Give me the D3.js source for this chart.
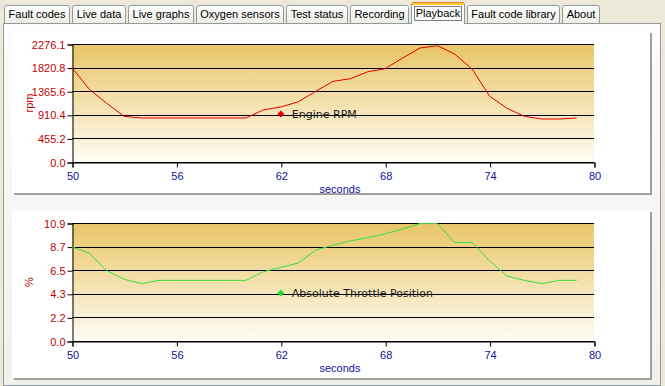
<!DOCTYPE html>
<html>
<head>
<meta charset="utf-8">
<script src="https://cdn.jsdelivr.net/npm/d3@7"></script>
<style>
  body { margin: 0; background: #ece9d8; }
  svg { display: block; font-family: "Liberation Sans", Arial, sans-serif; }
</style>
</head>
<body>
<svg id="chart" width="665" height="386"></svg>
<script>
const tabNames = ["Fault codes", "Live data", "Live graphs", "Oxygen sensors", "Test status",
  "Recording", "Playback", "Fault code library", "About"];
const activeTab = "Playback";

// time axis (seconds)
const seconds = [50, 51, 52, 53, 54, 55, 56, 57, 58, 59, 60, 61, 62, 63, 64,
  65, 66, 67, 68, 69, 70, 71, 72, 73, 74, 75, 76, 77, 78, 79];
const xTicks = [50, 56, 62, 68, 74, 80];

// Engine RPM
const rpmValues = [1820, 1400, 1130, 880, 849, 849, 849, 849, 849, 849, 849, 1005, 1061, 1160, 1362,
  1555, 1607, 1740, 1800, 2005, 2199, 2243, 2080, 1790, 1270, 1035, 880, 829, 829, 849];
const rpmTicks = ["0.0", "455.2", "910.4", "1365.6", "1820.8", "2276.1"];

// Absolute Throttle Position
const throttleValues = [8.7, 8.1, 6.5, 5.7, 5.3, 5.6, 5.6, 5.6, 5.6, 5.6, 5.6, 6.4, 6.8, 7.2, 8.4,
  8.85, 9.25, 9.55, 9.9, 10.35, 10.85, 10.85, 9.1, 9.1, 7.4, 6.0, 5.6, 5.3, 5.6, 5.6];
const throttleTicks = ["0.0", "2.2", "4.3", "6.5", "8.7", "10.9"];

const charts = [
  { name: "Engine RPM", unit: "rpm", values: rpmValues, ticks: rpmTicks, color: "#e00000",
    marker: "#e00000", panelTop: 31, panelBottom: 193, plotTop: 44, plotBottom: 162 },
  { name: "Absolute Throttle Position", unit: "%", values: throttleValues, ticks: throttleTicks, color: "#3ade3a",
    marker: "#22e022", panelTop: 210, panelBottom: 378, plotTop: 223, plotBottom: 341 }
];

const svg = d3.select("#chart");
const defs = svg.append("defs");

function vGrad(id, c0, c1) {
  const g = defs.append("linearGradient").attr("id", id)
    .attr("x1", 0).attr("y1", 0).attr("x2", 0).attr("y2", 1);
  g.append("stop").attr("offset", "0%").attr("stop-color", c0);
  g.append("stop").attr("offset", "100%").attr("stop-color", c1);
}
vGrad("tabGrad", "#ffffff", "#ecebe5");
vGrad("pageGrad", "#fcfcfe", "#f1f0ea");
vGrad("plotGrad", "#e8c567", "#fffcf4");

// ---- tab strip ----
const tabFont = "11px 'Liberation Sans', Arial, sans-serif";
const measure = svg.append("text").style("font", tabFont);
let tx = 4;
const tabs = tabNames.map((name) => {
  measure.text(name);
  const w = Math.round(measure.node().getComputedTextLength() + 9);
  const t = { name, x: tx, w };
  tx += w + 2;
  return t;
});
measure.remove();

function tabPath(x, w, top) {
  return `M${x + 0.5},24 V${top + 2.5} Q${x + 0.5},${top + 0.5} ${x + 2.5},${top + 0.5}` +
    ` H${x + w - 2.5} Q${x + w - 0.5},${top + 0.5} ${x + w - 0.5},${top + 2.5} V24`;
}

const tabG = svg.append("g");
tabs.filter((t) => t.name !== activeTab).forEach((t) => {
  tabG.append("path").attr("d", tabPath(t.x, t.w, 5))
    .attr("fill", "url(#tabGrad)").attr("stroke", "#919b9c");
  tabG.append("text").attr("x", t.x + t.w / 2).attr("y", 18)
    .attr("text-anchor", "middle").style("font", tabFont).attr("fill", "#000")
    .text(t.name);
});

// tab page
svg.append("rect").attr("x", 3.5).attr("y", 23.5).attr("width", 657).attr("height", 362)
  .attr("fill", "url(#pageGrad)").attr("stroke", "#919b9c");

// active tab
tabs.filter((t) => t.name === activeTab).forEach((t) => {
  const g = svg.append("g");
  g.append("path").attr("d", tabPath(t.x, t.w, 2) + " Z").attr("fill", "#fcfcfe").attr("stroke", "none");
  g.append("path").attr("d", tabPath(t.x, t.w, 2)).attr("fill", "none").attr("stroke", "#919b9c");
  g.append("rect").attr("x", t.x + 1).attr("y", 2).attr("width", t.w - 2).attr("height", 1).attr("fill", "#e68b2c");
  g.append("rect").attr("x", t.x + 1).attr("y", 3).attr("width", t.w - 2).attr("height", 2).attr("fill", "#ffc83c");
  g.append("rect").attr("x", t.x + 3.5).attr("y", 6.5).attr("width", t.w - 7).attr("height", 14)
    .attr("fill", "none").attr("stroke", "#000").attr("stroke-dasharray", "1,1");
  g.append("text").attr("x", t.x + t.w / 2).attr("y", 17)
    .attr("text-anchor", "middle").style("font", tabFont).attr("fill", "#000")
    .text(t.name);
});

// ---- charts ----
const left = 72, right = 594;
const x = d3.scaleLinear().domain([xTicks[0], xTicks[xTicks.length - 1]]).range([left, right]);

charts.forEach((c) => {
  // panel with shadow
  svg.append("rect").attr("x", 14).attr("y", c.panelTop + 2)
    .attr("width", 638).attr("height", c.panelBottom - c.panelTop).attr("fill", "#a0a0a0");
  svg.append("rect").attr("x", 12).attr("y", c.panelTop)
    .attr("width", 638).attr("height", c.panelBottom - c.panelTop).attr("fill", "#ffffff");

  const yMax = +c.ticks[c.ticks.length - 1];
  const y = d3.scaleLinear().domain([0, yMax]).range([c.plotBottom, c.plotTop]);
  const tickVals = c.ticks.map((_, i) => (i * yMax) / (c.ticks.length - 1));

  const g = svg.append("g");
  g.append("rect").attr("x", left).attr("y", c.plotTop)
    .attr("width", right - left).attr("height", c.plotBottom - c.plotTop)
    .attr("fill", "url(#plotGrad)");

  // grid
  g.append("g").selectAll("line").data(tickVals).join("line")
    .attr("x1", left).attr("x2", right)
    .attr("y1", (d) => Math.round(y(d)) + 0.5).attr("y2", (d) => Math.round(y(d)) + 0.5)
    .attr("stroke", "#000");

  // y axis
  const yAxis = g.append("g").attr("transform", `translate(${left + 0.5},0.5)`)
    .call(d3.axisLeft(y).tickValues(tickVals).tickSize(5).tickPadding(2)
      .tickFormat((d, i) => c.ticks[i]));
  yAxis.select(".domain").attr("stroke", "#000");
  yAxis.selectAll(".tick line").attr("stroke", "#000");
  yAxis.selectAll("text").attr("fill", "#c00000").style("font-size", "11px")
    .style("font-family", "'Liberation Sans', Arial, sans-serif");

  // x axis
  const xAxis = g.append("g").attr("transform", `translate(0.5,${Math.round(c.plotBottom) + 0.5})`)
    .call(d3.axisBottom(x).tickValues(xTicks).tickSize(5).tickPadding(5).tickFormat(d3.format("d")));
  xAxis.select(".domain").attr("stroke", "#000");
  xAxis.selectAll(".tick line").attr("stroke", "#000");
  xAxis.selectAll("text").attr("fill", "#10109a").style("font-size", "11px")
    .style("font-family", "'Liberation Sans', Arial, sans-serif");

  // titles
  g.append("text").attr("x", (left + right) / 2 + 7).attr("y", c.plotBottom + 31)
    .attr("text-anchor", "middle").attr("fill", "#10109a").style("font-size", "11px")
    .text("seconds");
  g.append("text")
    .attr("transform", `translate(33,${(c.plotTop + c.plotBottom) / 2}) rotate(-90)`)
    .attr("text-anchor", "middle").attr("fill", "#c00000").style("font-size", "11px")
    .text(c.unit);

  // series line
  const line = d3.line().x((d, i) => x(seconds[i])).y((d) => y(d));
  g.append("path").datum(c.values).attr("d", line)
    .attr("fill", "none").attr("stroke", c.color).attr("stroke-width", 1);

  // legend
  const lx = x(62), ly = c.plotTop + 70;
  g.append("path").attr("d", "M0,-3.5L3.5,0L0,3.5L-3.5,0Z")
    .attr("transform", `translate(${lx},${ly})`).attr("fill", c.marker);
  g.append("text").attr("x", lx + 11).attr("y", ly + 4)
    .attr("fill", "#1a1a1a").style("font-size", "11px")
    .style("font-family", "'DejaVu Sans', Verdana, sans-serif")
    .text(c.name);
});
</script>
</body>
</html>
